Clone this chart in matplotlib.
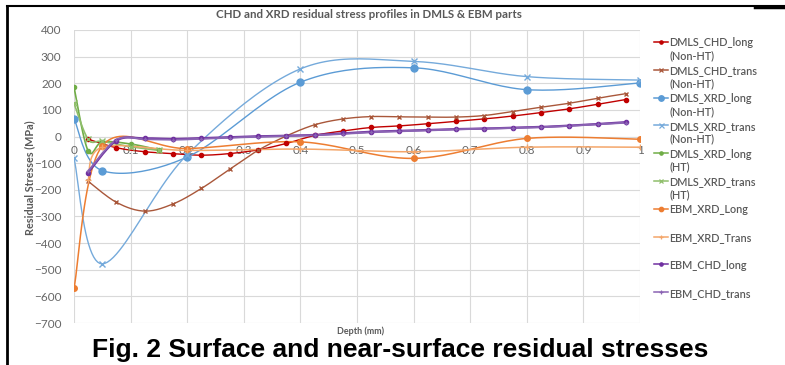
import numpy as np
import matplotlib
matplotlib.use('Agg')
import matplotlib.pyplot as plt
from matplotlib.lines import Line2D

plt.rcParams['font.family'] = ['Lato', 'DejaVu Sans']

## data ##
chd_depth = [0.025, 0.075, 0.125, 0.175, 0.225, 0.275, 0.325, 0.375, 0.425, 0.475,
             0.525, 0.575, 0.625, 0.675, 0.725, 0.775, 0.825, 0.875, 0.925, 0.975]
dmls_chd_long = [-10, -42, -57, -64, -70, -64, -50, -26, 4, 21,
                 34, 40, 48, 57, 66, 77, 90, 104, 121, 139]
dmls_chd_trans = [-168, -247, -280, -253, -195, -123, -52, 2, 44, 66,
                  75, 74, 73, 73, 79, 94, 110, 125, 144, 161]
ebm_chd_long = [-135, -15, -7, -9, -6, -2, 1, 3, 6, 12,
                18, 21, 24, 28, 30, 33, 36, 41, 47, 54]
ebm_chd_trans = [-130, -12, -10, -12, -8, -4, -1, 2, 5, 10,
                 16, 20, 23, 27, 29, 32, 35, 40, 46, 52]

xrd_depth = [0, 0.05, 0.2, 0.4, 0.6, 0.8, 1.0]
dmls_xrd_long = [67, -128, -77, 204, 258, 176, 201]
dmls_xrd_trans = [-82, -478, -68, 254, 282, 225, 212]
ebm_xrd_long = [-570, -35, -45, -20, -82, -7, -10]
ebm_trans_depth = [0.025, 0.05, 0.2, 0.4, 0.6, 0.8, 1.0]
ebm_xrd_trans = [-165, -40, -52, -47, -57, -40, -40]

ht_depth = [0, 0.025, 0.05, 0.1, 0.15]
ht_xrd_long = [185, -54, -20, -28, -50]
ht_xrd_trans = [125, -10, -18, -38, -52]

x_ticks = [0, 0.1, 0.2, 0.3, 0.4, 0.5, 0.6, 0.7, 0.8, 0.9, 1]
x_labels = ['0', '0.1', '0.2', '0.3', '0.4', '0.5', '0.6', '0.7', '0.8', '0.9', '1']
y_ticks = [400, 300, 200, 100, 0, -100, -200, -300, -400, -500, -600, -700]

series = [
    ('DMLS_CHD_long\n(Non-HT)', chd_depth, dmls_chd_long, '#C00000', 'o', 3, 1.0),
    ('DMLS_CHD_trans\n(Non-HT)', chd_depth, dmls_chd_trans, '#A9573A', 'x', 3.5, 1.0),
    ('DMLS_XRD_long\n(Non-HT)', xrd_depth, dmls_xrd_long, '#5B9BD5', 'o', 5, 1.0),
    ('DMLS_XRD_trans\n(Non-HT)', xrd_depth, dmls_xrd_trans, '#75AADB', 'x', 4.5, 1.0),
    ('DMLS_XRD_long\n(HT)', ht_depth, ht_xrd_long, '#70AD47', 'o', 3, 1.2),
    ('DMLS_XRD_trans\n(HT)', ht_depth, ht_xrd_trans, '#8FBE6B', 'x', 4, 1.2),
    ('EBM_XRD_Long', xrd_depth, ebm_xrd_long, '#ED7D31', 'o', 4, 1.1),
    ('EBM_XRD_Trans', ebm_trans_depth, ebm_xrd_trans, '#F4A66A', '+', 4, 1.1),
    ('EBM_CHD_long', chd_depth, ebm_chd_long, '#7030A0', 'o', 3, 1.6),
    ('EBM_CHD_trans', chd_depth, ebm_chd_trans, '#8A63B3', '+', 3.5, 1.4),
]

SX, SY = 566.0, 293.0 / 1100.0   # pixel scale, so the smoothing looks like Excel's


def smooth(x, y, n=24):
    P = np.column_stack([np.asarray(x, float) * SX, np.asarray(y, float) * SY])
    out = []
    for i in range(len(P) - 1):
        p0 = P[i - 1] if i > 0 else P[i]
        p1, p2 = P[i], P[i + 1]
        p3 = P[i + 2] if i + 2 < len(P) else P[i + 1]
        c1 = p1 + (p2 - p0) / 6.0
        c2 = p2 - (p3 - p1) / 6.0
        t = np.linspace(0, 1, n)[:, None]
        seg = (1 - t) ** 3 * p1 + 3 * (1 - t) ** 2 * t * c1 + 3 * (1 - t) * t ** 2 * c2 + t ** 3 * p2
        out.append(seg if i == 0 else seg[1:])
    out = np.vstack(out)
    return out[:, 0] / SX, out[:, 1] / SY


fig = plt.figure(figsize=(7.85, 3.65), dpi=100)
W, H = 785.0, 365.0
ax = fig.add_axes([74 / W, 1 - 323 / H, (640 - 74) / W, (323 - 30) / H])

handles = []
for label, xs, ys, col, mk, ms, lw in series:
    sx, sy = smooth(xs, ys)
    ax.plot(sx, sy, color=col, lw=lw, zorder=3)
    ax.plot(xs, ys, ls='none', marker=mk, ms=ms, color=col, mec=col, mew=1.0, zorder=4)
    handles.append((label, col, mk, ms))

ax.set_xlim(0, 1)
ax.set_ylim(-700, 400)
ax.set_xticks(x_ticks)
ax.set_xticklabels(x_labels)
ax.set_yticks(y_ticks)
ax.grid(True, color='#D9D9D9', lw=0.8, zorder=0)
ax.set_axisbelow(True)
for s in ['top', 'right', 'left']:
    ax.spines[s].set_visible(False)
ax.spines['bottom'].set_position(('data', 0))
ax.spines['bottom'].set_color('#D9D9D9')
ax.spines['bottom'].set_linewidth(0.8)
ax.tick_params(length=0, labelsize=8.5, labelcolor='#666666')
ax.tick_params(axis='x', pad=6)
ax.tick_params(axis='y', pad=9)

fig.text(369 / W, 1 - 14 / H, 'CHD and XRD residual stress profiles in DMLS & EBM parts',
         ha='center', va='center', fontsize=8.3, fontweight='bold', color='#595959')
fig.text(30 / W, 1 - 178 / H, 'Residual Stresses (MPa)', rotation=90,
         ha='center', va='center', fontsize=7.8, fontweight='bold', color='#595959')
fig.text(361 / W, 1 - 331 / H, 'Depth (mm)', ha='center', va='center',
         fontsize=6.5, fontweight='bold', color='#595959')

# legend, drawn by hand so every entry gets the same row height
for i, (label, col, mk, ms) in enumerate(handles):
    yy = 1 - (42 + i * 27.8) / H
    fig.add_artist(Line2D([654 / W, 668 / W], [yy, yy], color=col, lw=1.1,
                          transform=fig.transFigure))
    fig.add_artist(Line2D([661 / W], [yy], marker=mk, ms=ms * 0.8, color=col,
                          mew=0.9, transform=fig.transFigure))
    fig.text(669 / W, yy + 4.5 / H, label, ha='left', va='top', fontsize=7.8,
             color='#595959', fontweight='semibold', linespacing=1.2)

fig.text(400 / W, 1 - 350 / H, 'Fig. 2 Surface and near-surface residual stresses',
         ha='center', va='center', fontsize=19, fontweight='bold',
         family='Liberation Sans', color='black')

# page frame lines
fig.add_artist(Line2D([7 / W, 7 / W], [0, 1 - 6 / H], color='black', lw=2,
                      transform=fig.transFigure))
fig.add_artist(Line2D([7 / W, 1], [1 - 6 / H, 1 - 6 / H], color='black', lw=1.5,
                      transform=fig.transFigure))
fig.add_artist(Line2D([755 / W, 1], [1 - 7 / H, 1 - 7 / H], color='black', lw=2.5,
                      transform=fig.transFigure))

fig.savefig('out.png', dpi=100)
